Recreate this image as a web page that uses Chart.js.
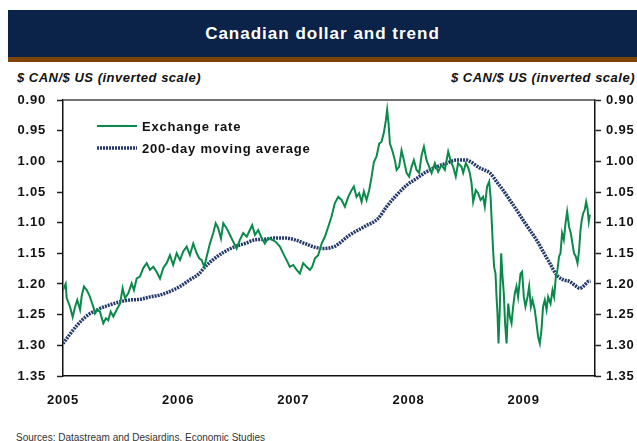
<!DOCTYPE html>
<html>
<head>
<meta charset="utf-8">
<script src="https://cdn.jsdelivr.net/npm/chart.js@4/dist/chart.umd.min.js"></script>
<style>
  body { margin: 0; background: #fff; font-family: "Liberation Sans", Arial, sans-serif; }
  #wrap { position: relative; width: 637px; height: 441px; overflow: hidden; }
  #band { position: absolute; left: 8px; right: 0; top: 10px; height: 47px; background: #0b2249;
          color: #fff; font-weight: bold; font-size: 17px; letter-spacing: 1px; text-align: center; line-height: 47px; }
  #stripe { position: absolute; left: 8px; right: 0; top: 57px; height: 5px; background: #7f4407; }
  .unit { position: absolute; top: 70px; font-size: 13px; font-weight: bold; font-style: italic; letter-spacing: 0.5px; color: #111; }
  #src { position: absolute; left: 16px; top: 432px; font-size: 10px; color: #333; line-height: 12px; }
  #box { position: absolute; left: 0; top: 88px; width: 637px; height: 340px; }
</style>
</head>
<body>
<div id="wrap">
  <div id="band">Canadian dollar and trend</div>
  <div id="stripe"></div>
  <div class="unit" style="left:17px">$ CAN/$ US (inverted scale)</div>
  <div class="unit" style="right:2px">$ CAN/$ US (inverted scale)</div>
  <div id="box"><canvas id="mycanvas"></canvas></div>
  <div id="src">Sources: Datastream and Desjardins, Economic Studies</div>
</div>
<script>
// daily exchange rate, sampled (decimal year, $CAN per $US)
var rateDates = [
  2005.000, 2005.023, 2005.032, 2005.061, 2005.084, 2005.104, 2005.124, 2005.148, 2005.162, 2005.182,
  2005.206, 2005.228, 2005.263, 2005.278, 2005.298, 2005.321, 2005.350, 2005.373, 2005.393, 2005.414,
  2005.437, 2005.466, 2005.495, 2005.518, 2005.538, 2005.567, 2005.596, 2005.616, 2005.640, 2005.668,
  2005.697, 2005.727, 2005.755, 2005.784, 2005.813, 2005.842, 2005.871, 2005.900, 2005.929, 2005.957,
  2005.987, 2006.016, 2006.044, 2006.074, 2006.102, 2006.131, 2006.161, 2006.183, 2006.204, 2006.227,
  2006.247, 2006.276, 2006.305, 2006.326, 2006.348, 2006.372, 2006.392, 2006.421, 2006.450, 2006.478,
  2006.508, 2006.536, 2006.565, 2006.595, 2006.623, 2006.643, 2006.667, 2006.695, 2006.725, 2006.753,
  2006.782, 2006.817, 2006.846, 2006.884, 2006.912, 2006.942, 2006.970, 2006.999, 2007.029, 2007.057,
  2007.086, 2007.115, 2007.144, 2007.164, 2007.188, 2007.216, 2007.246, 2007.274, 2007.303, 2007.332,
  2007.361, 2007.390, 2007.419, 2007.448, 2007.477, 2007.506, 2007.526, 2007.549, 2007.572, 2007.593,
  2007.613, 2007.636, 2007.659, 2007.680, 2007.700, 2007.723, 2007.746, 2007.766, 2007.786, 2007.804,
  2007.815, 2007.827, 2007.839, 2007.862, 2007.882, 2007.897, 2007.919, 2007.940, 2007.960, 2007.984,
  2008.006, 2008.027, 2008.047, 2008.070, 2008.093, 2008.114, 2008.134, 2008.157, 2008.180, 2008.201,
  2008.229, 2008.258, 2008.287, 2008.316, 2008.345, 2008.365, 2008.388, 2008.411, 2008.431, 2008.461,
  2008.475, 2008.498, 2008.518, 2008.533, 2008.548, 2008.562, 2008.585, 2008.605, 2008.626, 2008.648,
  2008.663, 2008.683, 2008.701, 2008.713, 2008.724, 2008.735, 2008.744, 2008.756, 2008.765, 2008.773,
  2008.782, 2008.793, 2008.805, 2008.817, 2008.828, 2008.839, 2008.852, 2008.866, 2008.880, 2008.895,
  2008.909, 2008.924, 2008.938, 2008.952, 2008.973, 2008.987, 2009.002, 2009.016, 2009.034, 2009.048,
  2009.063, 2009.077, 2009.097, 2009.112, 2009.126, 2009.141, 2009.155, 2009.169, 2009.184, 2009.199,
  2009.213, 2009.234, 2009.251, 2009.265, 2009.280, 2009.294, 2009.308, 2009.320, 2009.334, 2009.349,
  2009.364, 2009.378, 2009.395, 2009.410, 2009.424, 2009.438, 2009.453, 2009.468, 2009.482, 2009.494,
  2009.505, 2009.517, 2009.531, 2009.543, 2009.555, 2009.566, 2009.575
];
var rateValues = [
  1.210, 1.200, 1.223, 1.237, 1.254, 1.238, 1.226, 1.242, 1.220, 1.204,
  1.210, 1.218, 1.237, 1.248, 1.242, 1.245, 1.264, 1.256, 1.259, 1.245,
  1.253, 1.242, 1.232, 1.207, 1.223, 1.215, 1.199, 1.210, 1.191, 1.188,
  1.174, 1.166, 1.177, 1.172, 1.180, 1.191, 1.174, 1.166, 1.153, 1.169,
  1.150, 1.161, 1.147, 1.139, 1.153, 1.134, 1.150, 1.158, 1.161, 1.172,
  1.156, 1.134, 1.117, 1.101, 1.109, 1.126, 1.101, 1.109, 1.120, 1.131,
  1.142, 1.128, 1.117, 1.123, 1.112, 1.104, 1.120, 1.112, 1.125, 1.134,
  1.125, 1.128, 1.131, 1.139, 1.150, 1.161, 1.172, 1.169, 1.177, 1.183,
  1.166, 1.172, 1.177, 1.172, 1.158, 1.153, 1.134, 1.123, 1.107, 1.090,
  1.068, 1.058, 1.063, 1.074, 1.058, 1.047, 1.041, 1.058, 1.052, 1.066,
  1.049, 1.063, 1.047, 1.025, 1.001, 0.992, 0.971, 0.968, 0.954, 0.933,
  0.916, 0.938, 0.971, 0.984, 0.998, 1.014, 1.009, 0.982, 0.998, 1.019,
  1.025, 1.009, 0.998, 1.014, 1.019, 0.990, 0.976, 0.998, 1.009, 1.019,
  1.003, 1.017, 1.006, 1.014, 0.984, 0.998, 1.009, 1.025, 1.003, 1.009,
  1.019, 1.003, 1.010, 1.019, 1.036, 1.066, 1.047, 1.052, 1.063, 1.058,
  1.074, 1.041, 1.033, 1.058, 1.101, 1.145, 1.172, 1.183, 1.221, 1.248,
  1.297, 1.242, 1.150, 1.188, 1.215, 1.264, 1.297, 1.232, 1.253, 1.264,
  1.237, 1.215, 1.204, 1.221, 1.183, 1.180, 1.221, 1.237, 1.221, 1.204,
  1.237, 1.226, 1.242, 1.264, 1.286, 1.297, 1.275, 1.237, 1.226, 1.242,
  1.221, 1.232, 1.210, 1.221, 1.188, 1.177, 1.155, 1.150, 1.117, 1.128,
  1.101, 1.082, 1.107, 1.117, 1.134, 1.150, 1.155, 1.166, 1.145, 1.112,
  1.096, 1.085, 1.079, 1.066, 1.077, 1.098, 1.087
];

// 200-day moving average
var maDates = [
  2005.000, 2005.119, 2005.206, 2005.321, 2005.408, 2005.495, 2005.582, 2005.668, 2005.755, 2005.842,
  2005.929, 2006.016, 2006.102, 2006.183, 2006.233, 2006.319, 2006.406, 2006.493, 2006.580, 2006.667,
  2006.753, 2006.840, 2006.927, 2007.014, 2007.101, 2007.188, 2007.260, 2007.355, 2007.491, 2007.622,
  2007.737, 2007.810, 2007.897, 2007.984, 2008.070, 2008.157, 2008.244, 2008.331, 2008.418, 2008.504,
  2008.533, 2008.620, 2008.707, 2008.765, 2008.822, 2008.880, 2008.938, 2008.996, 2009.054, 2009.112,
  2009.169, 2009.227, 2009.286, 2009.343, 2009.401, 2009.444, 2009.488, 2009.523, 2009.560, 2009.581
];
var maValues = [
  1.297, 1.268, 1.252, 1.240, 1.234, 1.229, 1.226, 1.225, 1.221, 1.218,
  1.212, 1.204, 1.193, 1.183, 1.172, 1.158, 1.147, 1.139, 1.134, 1.128,
  1.127, 1.125, 1.125, 1.128, 1.134, 1.140, 1.142, 1.139, 1.120, 1.106,
  1.093, 1.074, 1.055, 1.039, 1.028, 1.017, 1.009, 1.003, 0.998, 0.998,
  1.000, 1.011, 1.019, 1.033, 1.047, 1.063, 1.079, 1.096, 1.112, 1.128,
  1.147, 1.166, 1.185, 1.193, 1.196, 1.202, 1.207, 1.203, 1.196, 1.195
];

var years = [2005, 2006, 2007, 2008, 2009];
var yTicks = [0.90, 0.95, 1.00, 1.05, 1.10, 1.15, 1.20, 1.25, 1.30, 1.35];
var seriesNames = ["Exchange rate", "200-day moving average"];

var GREEN = "#0a8a4a";
var NAVY = "#23396b";

function toPoints(xs, ys) {
  var out = [];
  for (var i in xs) out.push({ x: xs[i], y: ys[i] });
  return out;
}

Chart.defaults.font.family = '"Liberation Sans", Arial, sans-serif';
Chart.defaults.font.size = 13;
Chart.defaults.font.weight = "bold";
Chart.defaults.color = "#111";

// wider text like the rest of the page
var spacing = {
  id: "spacing",
  beforeLayout: function(c) { c.ctx.letterSpacing = "0.8px"; },
  beforeDraw: function(c) { c.ctx.letterSpacing = "0.8px"; }
};

// top frame line and the legend stacked inside the plot
var frameLegend = {
  id: "frameLegend",
  afterDraw: function(c) {
    var ctx = c.ctx, a = c.chartArea;
    ctx.save();
    ctx.strokeStyle = "#444";
    ctx.lineWidth = 1.5;
    ctx.beginPath();
    ctx.moveTo(a.left, a.top);
    ctx.lineTo(a.right, a.top);
    ctx.stroke();

    ctx.letterSpacing = "0.8px";
    ctx.font = 'bold 13px "Liberation Sans", Arial, sans-serif';
    ctx.textBaseline = "middle";
    ctx.fillStyle = "#111";
    c.data.datasets.forEach(function(ds, i) {
      var y = a.top + 26 + i * 22;
      var x = a.left + 34;
      ctx.strokeStyle = ds.borderColor;
      ctx.lineWidth = ds.borderWidth;
      ctx.setLineDash(ds.borderDash || []);
      ctx.beginPath();
      ctx.moveTo(x, y);
      ctx.lineTo(x + 40, y);
      ctx.stroke();
      ctx.setLineDash([]);
      ctx.fillText(ds.label, x + 45, y + 1);
    });
    ctx.restore();
  }
};

var yAxis = function(pos, width, pad) {
  return {
    type: "linear",
    position: pos,
    reverse: true,
    min: 0.90,
    max: 1.35,
    afterBuildTicks: function(s) { s.ticks = yTicks.map(function(v) { return { value: v }; }); },
    afterFit: function(s) {
      s.width = width;
      // plot top is set by layout padding, not by the label half-height
      s.paddingTop = 0;
      s.paddingBottom = 0;
    },
    grid: { drawOnChartArea: false, drawTicks: true, tickLength: 6, tickColor: "#222", tickWidth: 1.5 },
    border: { display: true, color: "#111", width: 1.5 },
    ticks: { padding: pad, color: "#111", callback: function(v) { return v.toFixed(2); } }
  };
};

var ctx = document.getElementById("mycanvas");
var LineGraph = new Chart(ctx, {
  type: "line",
  data: {
    datasets: [
      {
        label: seriesNames[0],
        data: toPoints(rateDates, rateValues),
        borderColor: GREEN,
        borderWidth: 2,
        pointRadius: 0,
        tension: 0,
        yAxisID: "y"
      },
      {
        label: seriesNames[1],
        data: toPoints(maDates, maValues),
        borderColor: NAVY,
        borderWidth: 3.5,
        borderDash: [2, 1],
        pointRadius: 0,
        cubicInterpolationMode: "monotone",
        yAxisID: "y"
      }
    ]
  },
  options: {
    responsive: true,
    maintainAspectRatio: false,
    animation: false,
    layout: { padding: { top: 12, left: 0, right: 0, bottom: 0 } },
    plugins: { legend: { display: false }, tooltip: { enabled: false } },
    scales: {
      x: {
        type: "linear",
        min: 2005,
        max: 2009.62,
        afterBuildTicks: function(s) { s.ticks = years.map(function(v) { return { value: v }; }); },
        afterFit: function(s) { s.height = 52; },
        grid: { display: false, drawTicks: false },
        border: { display: true, color: "#111", width: 1.5 },
        ticks: { padding: 17, maxRotation: 0, color: "#111", callback: function(v) { return String(v); } }
      },
      y: yAxis("left", 63, 11),
      y2: yAxis("right", 42, 5)
    }
  },
  plugins: [spacing, frameLegend]
});
</script>
</body>
</html>
